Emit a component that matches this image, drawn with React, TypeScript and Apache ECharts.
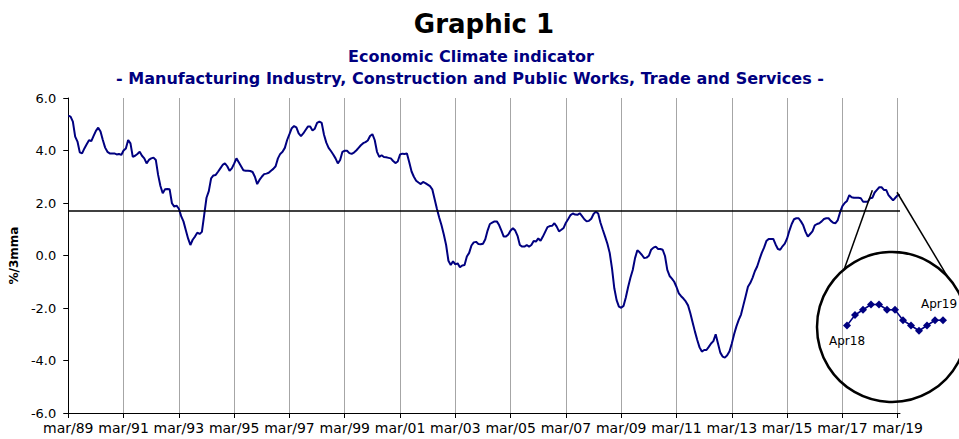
import { useEffect, useRef } from "react";
import * as echarts from "echarts";

// ---- Data (monthly, 3-month moving average, from mar/89 to apr/19) ----
const START_YEAR = 1989;
const START_MONTH = 2; // March (0-based)
const MONTH_ABBR = ["jan", "feb", "mar", "apr", "may", "jun", "jul", "aug", "sep", "oct", "nov", "dec"];

// one row per 12 months (Mar..Feb)
const climateValues: number[] = [
  5.33, 5.29, 5.10, 4.53, 4.34, 3.93, 3.89, 4.08, 4.24, 4.39, 4.36, 4.56,
  4.75, 4.87, 4.72, 4.40, 4.11, 3.95, 3.89, 3.89, 3.89, 3.85, 3.87, 3.83,
  4.00, 4.08, 4.40, 4.27, 3.76, 3.80, 3.87, 3.95, 3.80, 3.70, 3.51, 3.64,
  3.70, 3.73, 3.64, 3.07, 2.65, 2.37, 2.52, 2.53, 2.52, 1.99, 1.86, 1.90,
  1.78, 1.50, 1.30, 0.97, 0.65, 0.40, 0.60, 0.72, 0.87, 0.82, 0.90, 1.55,
  2.20, 2.45, 2.94, 3.05, 3.07, 3.19, 3.32, 3.45, 3.51, 3.40, 3.23, 3.32,
  3.50, 3.70, 3.55, 3.40, 3.25, 3.23, 3.23, 3.22, 3.18, 3.00, 2.72, 2.88,
  3.00, 3.10, 3.12, 3.15, 3.23, 3.30, 3.40, 3.70, 3.87, 3.95, 4.10, 4.40,
  4.62, 4.85, 4.93, 4.88, 4.65, 4.55, 4.65, 4.78, 4.91, 4.91, 4.76, 4.83,
  5.05, 5.10, 5.05, 4.60, 4.30, 4.10, 3.98, 3.85, 3.70, 3.51, 3.64, 3.95,
  3.99, 3.99, 3.90, 3.87, 3.92, 4.00, 4.10, 4.20, 4.28, 4.32, 4.38, 4.55,
  4.62, 4.40, 3.95, 3.76, 3.82, 3.75, 3.74, 3.72, 3.70, 3.60, 3.52, 3.58,
  3.85, 3.88, 3.87, 3.89, 3.55, 3.20, 3.00, 2.85, 2.78, 2.72, 2.80, 2.76,
  2.70, 2.64, 2.52, 2.15, 1.78, 1.45, 1.15, 0.80, 0.40, -0.20, -0.36, -0.22,
  -0.34, -0.30, -0.45, -0.38, -0.36, -0.04, 0.10, 0.38, 0.50, 0.52, 0.44, 0.43,
  0.45, 0.62, 0.95, 1.20, 1.25, 1.30, 1.30, 1.16, 0.95, 0.72, 0.72, 0.80,
  0.95, 1.04, 0.95, 0.75, 0.40, 0.34, 0.34, 0.40, 0.34, 0.40, 0.55, 0.53,
  0.65, 0.56, 0.72, 0.90, 1.08, 1.12, 1.13, 1.23, 1.10, 0.92, 0.98, 1.05,
  1.25, 1.39, 1.54, 1.60, 1.56, 1.55, 1.61, 1.50, 1.38, 1.30, 1.32, 1.40,
  1.58, 1.67, 1.60, 1.25, 0.98, 0.72, 0.45, 0.10, -0.49, -1.25, -1.70, -1.95,
  -1.99, -1.92, -1.60, -1.20, -0.85, -0.55, -0.10, 0.20, 0.12, 0.02, -0.10, -0.08,
  -0.01, 0.22, 0.30, 0.34, 0.25, 0.25, 0.22, -0.02, -0.55, -0.78, -0.88, -1.00,
  -1.20, -1.44, -1.55, -1.64, -1.75, -1.90, -2.20, -2.55, -2.90, -3.22, -3.50, -3.66,
  -3.60, -3.60, -3.48, -3.35, -3.26, -3.00, -3.35, -3.70, -3.85, -3.89, -3.80, -3.65,
  -3.35, -3.00, -2.70, -2.45, -2.25, -1.90, -1.55, -1.19, -1.05, -0.85, -0.60, -0.42,
  -0.15, 0.10, 0.30, 0.55, 0.63, 0.63, 0.63, 0.42, 0.25, 0.22, 0.35, 0.45,
  0.65, 0.95, 1.20, 1.38, 1.42, 1.42, 1.30, 1.15, 0.90, 0.72, 0.82, 0.92,
  1.15, 1.20, 1.23, 1.30, 1.39, 1.42, 1.42, 1.32, 1.25, 1.23, 1.35, 1.65,
  1.88, 2.00, 2.08, 2.30, 2.22, 2.20, 2.20, 2.20, 2.18, 2.05, 2.05, 2.05,
  2.18, 2.20, 2.40, 2.50, 2.60, 2.60, 2.50, 2.50, 2.30, 2.20, 2.10, 2.20,
  2.30, 2.30,
];

const longTermAverage = 1.7;
const Y_MIN = -6;
const Y_MAX = 6;
const Y_INTERVAL = 2;
const LABEL_EVERY = 24; // months between axis labels

const insetStartIndex = 349; // Apr18
const insetLabels = ["Apr18", "Apr19"];

const titleMain = "Graphic 1";
const titleSub1 = "Economic Climate indicator";
const titleSub2 = "- Manufacturing Industry, Construction and Public Works, Trade and Services -";
const yAxisName = "%/3mma";

const months = climateValues.map((_, i) => {
  const k = START_MONTH + i;
  const m = k % 12;
  const y = START_YEAR + Math.floor(k / 12);
  return `${MONTH_ABBR[m]}/${String(y % 100).padStart(2, "0")}`;
});

const FONT = "DejaVu Sans";
const NAVY = "#000080";

export default function App() {
  const ref = useRef<HTMLDivElement>(null);

  useEffect(() => {
    if (!ref.current) return;
    const chart = echarts.init(ref.current, undefined, { renderer: "svg" });

    const insetValues = climateValues.slice(insetStartIndex);
    const insetData = insetValues.map((v, i) => {
      if (i === 0) {
        return {
          value: v,
          label: { show: true, formatter: insetLabels[0], position: "bottom", distance: 5, color: "#000", fontSize: 12, fontFamily: FONT },
        };
      }
      if (i === insetValues.length - 1) {
        return {
          value: v,
          label: { show: true, formatter: insetLabels[1], position: "top", distance: 6, offset: [-4, 0], color: "#000", fontSize: 12, fontFamily: FONT },
        };
      }
      return v;
    });

    const option: any = {
      animation: false,
      backgroundColor: "#ffffff",
      textStyle: { fontFamily: FONT },
      title: [
        {
          text: titleMain, left: 479, top: 6, textAlign: "center",
          textStyle: { fontSize: 26, fontWeight: "bold", color: "#000", fontFamily: FONT },
        },
        {
          text: titleSub1, left: 466, top: 43, textAlign: "center",
          textStyle: { fontSize: 16, fontWeight: "bold", color: NAVY, fontFamily: FONT },
        },
        {
          text: titleSub2, left: 465, top: 65, textAlign: "center",
          textStyle: { fontSize: 16, fontWeight: "bold", color: NAVY, fontFamily: FONT },
        },
      ],
      grid: [
        { left: 63, right: 59, top: 98, bottom: 26 },
        { left: 847, width: 96, top: 294, height: 42 },
      ],
      xAxis: [
        {
          type: "category",
          gridIndex: 0,
          data: months,
          boundaryGap: false,
          axisLine: { onZero: false, lineStyle: { color: "#000", width: 1 } },
          axisTick: { interval: LABEL_EVERY - 1, length: 5, lineStyle: { color: "#000" } },
          axisLabel: { interval: LABEL_EVERY - 1, color: "#000", fontSize: 14, fontFamily: FONT, margin: 8 },
          splitLine: { show: true, interval: LABEL_EVERY - 1, lineStyle: { color: "#a6a6a6", width: 1 } },
        },
        {
          type: "category",
          gridIndex: 1,
          data: months.slice(insetStartIndex),
          boundaryGap: false,
          show: false,
        },
      ],
      yAxis: [
        {
          type: "value",
          gridIndex: 0,
          min: Y_MIN,
          max: Y_MAX,
          interval: Y_INTERVAL,
          name: yAxisName,
          nameLocation: "middle",
          nameGap: 44,
          nameRotate: 90,
          nameTextStyle: { fontWeight: "bold", fontSize: 12, color: "#000", fontFamily: FONT },
          axisLine: { show: true, lineStyle: { color: "#000", width: 1 } },
          axisTick: { show: true, length: 5, lineStyle: { color: "#000" } },
          axisLabel: { formatter: (v: number) => v.toFixed(1), color: "#000", fontSize: 13, fontFamily: FONT, margin: 12 },
          splitLine: { show: false },
        },
        { type: "value", gridIndex: 1, min: 2.0, max: 2.8, show: false },
      ],
      series: [
        {
          type: "line",
          xAxisIndex: 0,
          yAxisIndex: 0,
          data: climateValues,
          symbol: "none",
          showSymbol: false,
          lineStyle: { color: NAVY, width: 2 },
          markLine: {
            silent: true,
            symbol: "none",
            label: { show: false },
            lineStyle: { color: "#000", width: 1.5, type: "solid" },
            data: [{ yAxis: longTermAverage }],
          },
          z: 3,
        },
        {
          type: "line",
          xAxisIndex: 1,
          yAxisIndex: 1,
          data: insetData,
          symbol: "diamond",
          symbolSize: 8,
          showSymbol: true,
          showAllSymbol: true,
          itemStyle: { color: NAVY },
          lineStyle: { color: NAVY, width: 1.5 },
          z: 5,
        },
      ],
    };
    chart.setOption(option);

    // Callout: circle + connector lines from the zoomed period of the main series
    const zoomMax = Math.max(...insetValues);
    const a = chart.convertToPixel({ xAxisIndex: 0, yAxisIndex: 0 }, [insetStartIndex, zoomMax]) as number[];
    const b = chart.convertToPixel({ xAxisIndex: 0, yAxisIndex: 0 }, [climateValues.length - 1, zoomMax]) as number[];
    const cx = 892, cy = 327, r = 75;
    const onCircle = (ang: number) => [cx + r * Math.cos(ang), cy + r * Math.sin(ang)];
    const pL = onCircle(Math.atan2(-58, -48));
    const pR = onCircle(Math.atan2(-50, 55));
    chart.setOption({
      graphic: [
        { type: "circle", shape: { cx, cy, r }, style: { fill: "none", stroke: "#000", lineWidth: 2.5 }, z: 10, silent: true },
        { type: "line", shape: { x1: a[0], y1: a[1] + 3, x2: pL[0], y2: pL[1] }, style: { stroke: "#000", lineWidth: 1.5 }, z: 10, silent: true },
        { type: "line", shape: { x1: b[0] - 3, y1: b[1] + 5, x2: pR[0], y2: pR[1] }, style: { stroke: "#000", lineWidth: 1.5 }, z: 10, silent: true },
      ],
    });

    return () => chart.dispose();
  }, []);

  return <div ref={ref} style={{ position: "fixed", left: 0, top: 0, width: 959, height: 439, background: "#fff" }} />;
}
